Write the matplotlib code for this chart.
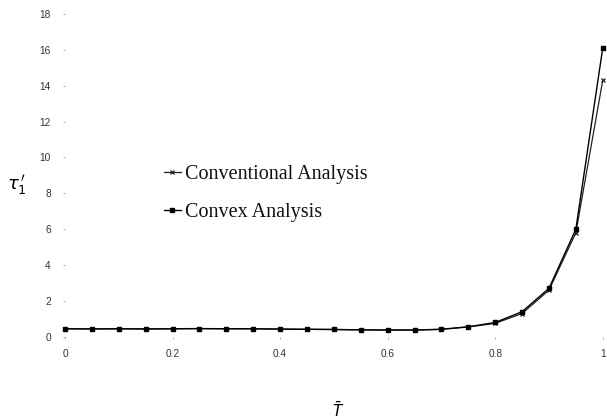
import matplotlib
matplotlib.use("Agg")
import matplotlib.pyplot as plt
import numpy as np

x_vals = [0.00, 0.05, 0.10, 0.15, 0.20, 0.25, 0.30, 0.35, 0.40, 0.45, 0.50,
          0.55, 0.60, 0.65, 0.70, 0.75, 0.80, 0.85, 0.90, 0.95, 1.00]
conventional = [0.45, 0.44, 0.45, 0.44, 0.45, 0.46, 0.45, 0.45, 0.43, 0.42, 0.41,
                0.39, 0.38, 0.38, 0.42, 0.55, 0.75, 1.30, 2.60, 5.80, 14.3]
convex = [0.45, 0.44, 0.45, 0.44, 0.45, 0.46, 0.45, 0.45, 0.43, 0.42, 0.41,
          0.39, 0.38, 0.38, 0.42, 0.56, 0.80, 1.40, 2.70, 6.00, 16.1]
xticks = [0, 0.2, 0.4, 0.6, 0.8, 1]
xticklabels = ["0", "0.2", "0.4", "0.6", "0.8", "1"]
yticks = [0, 2, 4, 6, 8, 10, 12, 14, 16, 18]
labels = ["Conventional Analysis", "Convex Analysis"]

fig = plt.figure(figsize=(6.07, 4.2), dpi=100)
ax = fig.add_axes([0.107, 0.198, 0.886, 0.769])

l1, = ax.plot(x_vals, conventional, color="#222222", lw=0.9, marker="x",
              ms=3.5, mew=0.9, clip_on=False, label=labels[0])
l2, = ax.plot(x_vals, convex, color="#000000", lw=1.0, marker="s",
              ms=3.0, clip_on=False, label=labels[1])

ax.set_xlim(0, 1)
ax.set_ylim(0, 18)
for s in ax.spines.values():
    s.set_visible(False)
ax.set_xticks(xticks)
ax.set_xticklabels(xticklabels)
ax.set_yticks(yticks)
ax.tick_params(axis="both", length=1.2, width=0.6, color="#999999",
               labelsize=7.3, labelcolor="#333333")
ax.tick_params(axis="x", pad=7.5)
ax.tick_params(axis="y", pad=9)
for t in ax.get_xticklabels() + ax.get_yticklabels():
    t.set_fontfamily("Liberation Sans")

leg = ax.legend(handles=[l1, l2], loc="upper left",
                bbox_to_anchor=(0.17, 0.556), frameon=False,
                prop={"family": "Liberation Serif", "size": 14.5},
                handlelength=0.8, handletextpad=0.2, labelspacing=0.92,
                borderaxespad=0)
for t in leg.get_texts():
    t.set_color("#111111")

fig.text(0.028, 0.56, r"$\tau_1^{\,\prime}$", fontsize=13, ha="center",
         va="center", family="Liberation Serif")
fig.text(0.557, 0.0, r"$\bar{T}$", fontsize=11, ha="center", va="bottom")

fig.savefig("out.png", dpi=100)
